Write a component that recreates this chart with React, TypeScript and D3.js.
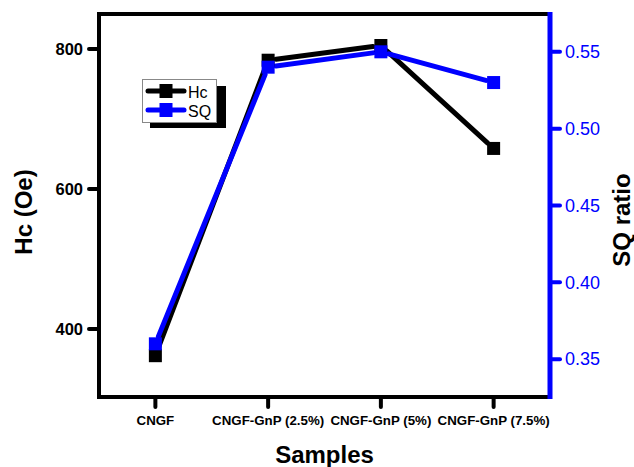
import React from "react";
import * as d3 from "d3";

const categories = ["CNGF", "CNGF-GnP (2.5%)", "CNGF-GnP (5%)", "CNGF-GnP (7.5%)"];
const hcValues = [362, 784, 805, 658];
const sqValues = [0.36, 0.54, 0.55, 0.53];
const hcTicks = [400, 600, 800];
const sqTicks = [0.35, 0.4, 0.45, 0.5, 0.55];

const W = 634, H = 467;
const L = 99, R = 550, T = 14, B = 397;
const FONT = "'Liberation Sans', Arial, sans-serif";
const BLUE = "#0000ff";

function segments(pts: [number, number][], gap: number) {
  const out: [number, number, number, number][] = [];
  for (let i = 0; i < pts.length - 1; i++) {
    const [x1, y1] = pts[i];
    const [x2, y2] = pts[i + 1];
    const dx = x2 - x1, dy = y2 - y1;
    const len = Math.hypot(dx, dy);
    const ux = dx / len, uy = dy / len;
    out.push([x1 + ux * gap, y1 + uy * gap, x2 - ux * gap, y2 - uy * gap]);
  }
  return out;
}

export default function App() {
  const x = d3.scalePoint<string>().domain(categories).range([L, R]).padding(0.5);
  const yL = d3.scaleLinear().domain([303, 850]).range([B, T]);
  const yR = d3.scaleLinear().domain([0.3254, 0.5746]).range([B, T]);

  const hcPts = categories.map((c, i) => [x(c)!, yL(hcValues[i])] as [number, number]);
  const sqPts = categories.map((c, i) => [x(c)!, yR(sqValues[i])] as [number, number]);
  const ms = 13;

  return (
    <svg width={W} height={H} style={{ position: "absolute", left: 0, top: 0 }} fontFamily={FONT}>
      <rect x={0} y={0} width={W} height={H} fill="#fff" />
      {/* data lines */}
      {segments(hcPts, 8).map((s, i) => (
        <line key={"hl" + i} x1={s[0]} y1={s[1]} x2={s[2]} y2={s[3]} stroke="#000" strokeWidth={5} strokeLinecap="round" />
      ))}
      {segments(sqPts, 8).map((s, i) => (
        <line key={"sl" + i} x1={s[0]} y1={s[1]} x2={s[2]} y2={s[3]} stroke={BLUE} strokeWidth={5} strokeLinecap="round" />
      ))}
      {hcPts.map((p, i) => (
        <rect key={"hm" + i} x={p[0] - ms / 2} y={p[1] - ms / 2} width={ms} height={ms} fill="#000" />
      ))}
      {sqPts.map((p, i) => (
        <rect key={"sm" + i} x={p[0] - ms / 2} y={p[1] - ms / 2} width={ms} height={ms} fill={BLUE} />
      ))}

      {/* frame */}
      <line x1={L} y1={T} x2={R} y2={T} stroke="#000" strokeWidth={4} />
      <line x1={L} y1={B} x2={R} y2={B} stroke="#000" strokeWidth={4} />
      <line x1={L} y1={T - 2} x2={L} y2={B + 2} stroke="#000" strokeWidth={4} />
      <line x1={R} y1={T - 2} x2={R} y2={B + 2} stroke={BLUE} strokeWidth={5} />

      {/* left ticks */}
      {hcTicks.map((t) => (
        <g key={"lt" + t}>
          <line x1={L - 10} x2={L} y1={yL(t)} y2={yL(t)} stroke="#000" strokeWidth={4} strokeLinecap="round" />
          <text x={L - 16} y={yL(t)} dy="0.35em" textAnchor="end" fontSize={16.5} fontWeight="bold">{t}</text>
        </g>
      ))}
      {/* right ticks */}
      {sqTicks.map((t) => (
        <g key={"rt" + t}>
          <line x1={R} x2={R + 10} y1={yR(t)} y2={yR(t)} stroke={BLUE} strokeWidth={4} strokeLinecap="round" />
          <text x={R + 15} y={yR(t)} dy="0.35em" textAnchor="start" fontSize={18} fill={BLUE}>{t.toFixed(2)}</text>
        </g>
      ))}
      {/* bottom ticks */}
      {categories.map((c) => (
        <g key={"bt" + c}>
          <line x1={x(c)!} x2={x(c)!} y1={B} y2={B + 10} stroke="#000" strokeWidth={4} strokeLinecap="round" />
          <text x={x(c)!} y={425} textAnchor="middle" fontSize={13.3} fontWeight="bold">{c}</text>
        </g>
      ))}

      {/* titles */}
      <text x={(L + R) / 2} y={463} textAnchor="middle" fontSize={24} fontWeight="bold">Samples</text>
      <text transform={`translate(32,${212}) rotate(-90)`} textAnchor="middle" fontSize={24} fontWeight="bold">Hc (Oe)</text>
      <text transform={`translate(630,${220}) rotate(-90)`} textAnchor="middle" fontSize={24} fontWeight="bold">SQ ratio</text>

      {/* legend */}
      <rect x={150} y={86} width={76} height={42} fill="#000" />
      <rect x={142.5} y={79.5} width={74} height={43} fill="#fff" stroke="#888" strokeWidth={1} />
      <line x1={148} x2={184} y1={91} y2={91} stroke="#000" strokeWidth={5} strokeLinecap="round" />
      <rect x={159.5} y={84} width={13} height={14} fill="#000" />
      <text x={188} y={97.5} fontSize={16}>Hc</text>
      <line x1={148} x2={184} y1={110} y2={110} stroke={BLUE} strokeWidth={5} strokeLinecap="round" />
      <rect x={159.5} y={103} width={13} height={14} fill={BLUE} />
      <text x={188} y={116.5} fontSize={16}>SQ</text>
    </svg>
  );
}
